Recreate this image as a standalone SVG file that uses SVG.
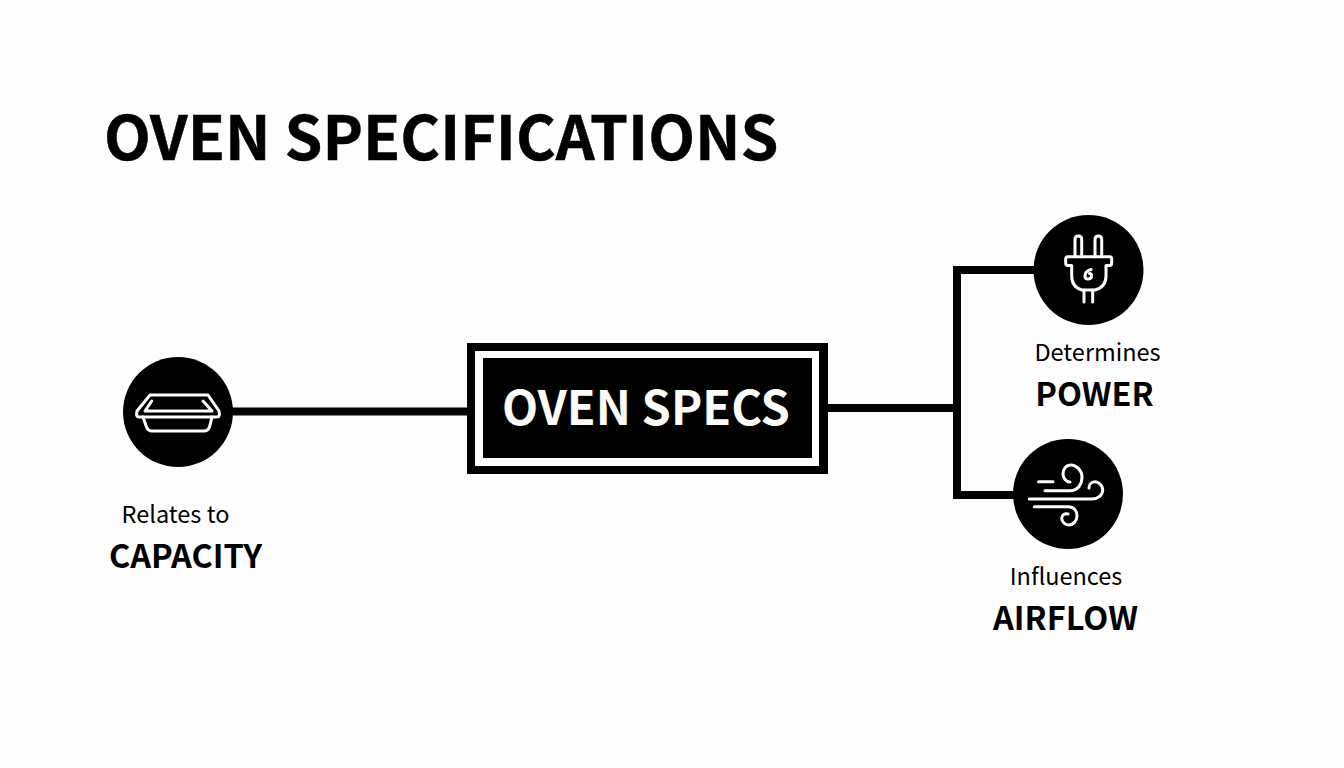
<svg xmlns="http://www.w3.org/2000/svg" width="1344" height="768" viewBox="0 0 1344 768">
<style>
text{font-family:"Noto Sans CJK SC","Noto Sans",sans-serif;fill:#000;text-anchor:middle}
.t{font-size:60.800px;font-weight:700;text-anchor:start;stroke:#000;stroke-width:.5}
.s{font-size:23.500px;font-weight:400}
.b{font-size:32.500px;font-weight:700}
.c{fill:none;stroke:#000;stroke-width:8}
.i{fill:none;stroke:#fff;stroke-width:3;stroke-linecap:round;stroke-linejoin:round}
</style>
<rect width="1344" height="768" fill="#fefefe"/>
<text id="title" class="t" x="104" y="160">OVEN SPECIFICATIONS</text>
<g id="connectors">
<path class="c" d="M232 411.500H468"/>
<path class="c" d="M828 408H957"/>
<path class="c" d="M1034 270H957V495H1014"/>
</g>
<g id="center">
<rect x="467" y="343" width="361" height="131" fill="#000"/>
<rect x="475" y="351" width="344" height="115" fill="#fff"/>
<rect x="483" y="358" width="329" height="100" fill="#000"/>
<text x="646" y="425" style="fill:#fbfbf8;font-size:47px;font-weight:700">OVEN SPECS</text>
</g>
<g id="capacity">
<circle cx="178" cy="412" r="55" fill="#000"/>
<path class="i" d="M150 395H208L219 411Q220.500 417 217 417H139Q135.500 417 137 411Z"/>
<path class="i" d="M151.700 401L145 411H212L203 401"/>
<path class="i" d="M143 417L146.500 427Q148 431 152 431H204Q208 431 209.500 427L212 417"/>
<text class="s" x="175.500" y="523">Relates to</text>
<text class="b" x="185.500" y="567.500">CAPACITY</text>
</g>
<g id="power">
<circle cx="1088.500" cy="270" r="55" fill="#000"/>
<path class="i" d="M1075 256.700V239.500Q1075 236 1078.300 236Q1081.700 236 1081.700 239.500V256.700M1095 256.700V239.500Q1095 236 1098.300 236Q1101.700 236 1101.700 239.500V256.700"/>
<path class="i" d="M1068 256.700H1109.500Q1111.700 256.700 1111.700 259V263Q1111.700 265.500 1109.500 265.500H1106V276Q1106 287 1095 290H1082Q1071.700 287 1071.700 276V265.500H1068Q1065.700 265.500 1065.700 263V259Q1065.700 256.700 1068 256.700Z"/>
<path class="i" d="M1084 290V302M1092.700 290V302"/>
<path class="i" d="M1091 269.500Q1085 271 1085 276Q1085 279 1088 279Q1091.500 279 1091.500 275.500Q1091.500 273.500 1089.500 273.500"/>
<text class="s" x="1097.500" y="361">Determines</text>
<text class="b" x="1094.500" y="406">POWER</text>
</g>
<g id="airflow">
<circle cx="1068" cy="494" r="55" fill="#000"/>
<path class="i" d="M1038.500 481.700H1053"/>
<path class="i" d="M1045 490.700H1070C1078 490.700 1082 484 1082 477C1082 470 1076 465 1071 465C1066 465 1063 469 1063 474C1063 478 1066 482 1070 482"/>
<path class="i" d="M1029.300 499H1092C1098 499 1102.700 495 1102.700 490C1102.700 485 1098 481.700 1095 481.700C1091 481.700 1089 485 1089 488"/>
<path class="i" d="M1034.300 506.700H1068C1074 506.700 1077 511 1077 516C1077 521 1073 525 1069 525C1065 525 1061.700 522 1061.700 518C1061.700 515 1065 513 1068 514"/>
<text class="s" x="1066" y="585">Influences</text>
<text class="b" x="1065.500" y="630">AIRFLOW</text>
</g>
</svg>
